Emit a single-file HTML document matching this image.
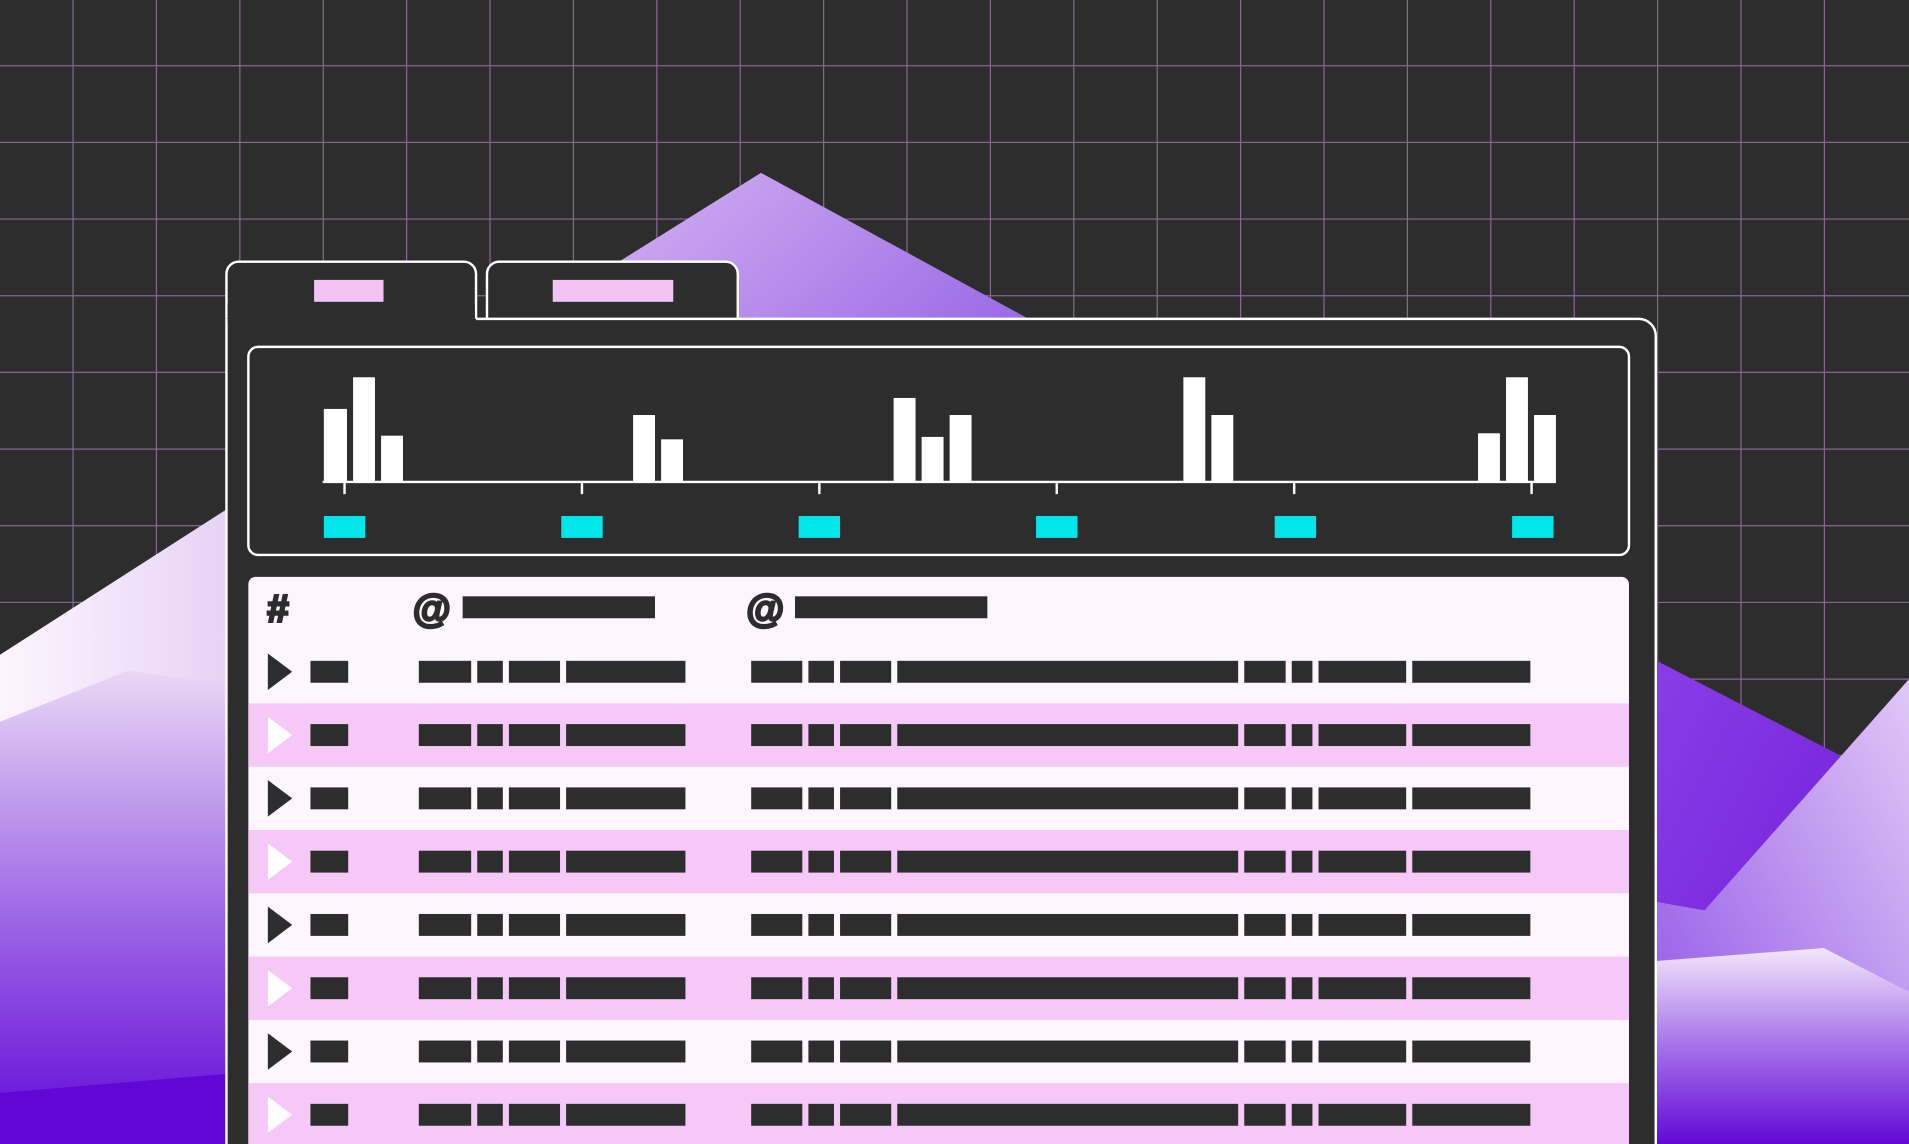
<!DOCTYPE html>
<html><head><style>html,body{margin:0;padding:0;background:#2d2d2d;overflow:hidden}svg{display:block}</style></head>
<body>
<svg width="1909" height="1144" viewBox="0 0 1568 940" xmlns="http://www.w3.org/2000/svg" preserveAspectRatio="none">
<defs>
<linearGradient id="gc" x1="0" y1="0" x2="1" y2="0.4"><stop offset="0" stop-color="#d6b4f2"/><stop offset="1" stop-color="#9a6ae6"/></linearGradient>
<linearGradient id="gw" x1="0" y1="0" x2="1" y2="0"><stop offset="0" stop-color="#fdf5fd"/><stop offset="1" stop-color="#e6d2f6"/></linearGradient>
<linearGradient id="gp" x1="0" y1="0" x2="0" y2="1"><stop offset="0" stop-color="#ead8f6"/><stop offset="0.5" stop-color="#a06be6"/><stop offset="1" stop-color="#6208d6"/></linearGradient>
<linearGradient id="gr1" x1="0" y1="0" x2="1" y2="1"><stop offset="0" stop-color="#8a3ee6"/><stop offset="1" stop-color="#6a14d6"/></linearGradient>
<linearGradient id="gr2" x1="1" y1="0" x2="0" y2="1"><stop offset="0" stop-color="#e0c8f6"/><stop offset="1" stop-color="#8a4ce6"/></linearGradient>
<linearGradient id="gr3" x1="0" y1="0" x2="0" y2="1"><stop offset="0" stop-color="#f2e6fa"/><stop offset="0.5" stop-color="#a672ea"/><stop offset="1" stop-color="#6208d6"/></linearGradient>
</defs>
<rect width="1568" height="940" fill="#2d2d2d"/>
<g stroke="#86688f" stroke-width="1">
<path d="M60 0V940M128.5 0V940M197 0V940M265.5 0V940M334 0V940M402.5 0V940M471 0V940M539.5 0V940M608 0V940M676.5 0V940M745 0V940M813.5 0V940M882 0V940M950.5 0V940M1019 0V940M1087.5 0V940M1156 0V940M1224.5 0V940M1293 0V940M1361.5 0V940M1430 0V940M1498.5 0V940"/>
<path d="M0 54H1568M0 117H1568M0 180H1568M0 243H1568M0 306H1568M0 369H1568M0 432H1568M0 495H1568M0 558H1568M0 621H1568"/>
</g>
<polygon points="625,142 510,214 480,300 900,300 845,262" fill="url(#gc)"/>
<polygon points="0,538 190,416 190,940 0,940" fill="url(#gw)"/>
<polygon points="0,593 105,551 190,563 190,940 0,940" fill="url(#gp)"/>
<polygon points="0,898 190,882 190,940 0,940" fill="#6206d6"/>
<polygon points="1355,540 1510,620 1568,700 1568,940 1355,940" fill="url(#gr1)"/>
<polygon points="1355,740 1400,748 1568,558 1568,940 1355,940" fill="url(#gr2)"/>
<polygon points="1355,790 1498,779 1568,815 1568,940 1355,940" fill="url(#gr3)"/>
<path d="M186 262V225a10 10 0 0 1 10-10h185a10 10 0 0 1 10 10V262" fill="#2d2d2d" stroke="#fff" stroke-width="2"/>
<path d="M400 262V225a10 10 0 0 1 10-10h186a10 10 0 0 1 10 10V262" fill="#2d2d2d" stroke="#fff" stroke-width="2"/>
<rect x="258" y="230" width="57" height="18" fill="#f2c4f6"/>
<rect x="454" y="230" width="99" height="18" fill="#f2c4f6"/>
<path d="M186 262V960H1360V276a14 14 0 0 0-14-14H391" fill="#2d2d2d" stroke="#fff" stroke-width="2"/>
<rect x="187" y="250" width="203" height="14" fill="#2d2d2d"/>
<rect x="204" y="285" width="1134" height="171" rx="8" fill="#2d2d2d" stroke="#fff" stroke-width="2"/>
<g fill="#fff">
<rect x="266" y="336" width="19" height="60"/><rect x="290" y="310" width="18" height="86"/><rect x="313" y="358" width="18" height="38"/>
<rect x="520" y="341" width="18" height="55"/><rect x="543" y="361" width="18" height="35"/>
<rect x="734" y="327" width="18" height="69"/><rect x="757" y="359" width="18" height="37"/><rect x="780" y="341" width="18" height="55"/>
<rect x="972" y="310" width="18" height="86"/><rect x="995" y="341" width="18" height="55"/>
<rect x="1214" y="356" width="18" height="40"/><rect x="1237" y="310" width="18" height="86"/><rect x="1260" y="341" width="18" height="55"/>
</g>
<path d="M265 396H1278M283 396V406M478 396V406M673 396V406M868 396V406M1063 396V406M1258 396V406" stroke="#fff" stroke-width="2"/>
<g fill="#00e6ea">
<rect x="266" y="424" width="34" height="18"/><rect x="461" y="424" width="34" height="18"/><rect x="656" y="424" width="34" height="18"/><rect x="851" y="424" width="34" height="18"/><rect x="1047" y="424" width="34" height="18"/><rect x="1242" y="424" width="34" height="18"/>
</g>
<path d="M204 940V480a6 6 0 0 1 6-6H1332a6 6 0 0 1 6 6V940Z" fill="#fdf7fd"/>
<g font-family="'Liberation Sans', sans-serif" font-size="32" font-weight="bold" fill="#2d2d2d" stroke="#2d2d2d" stroke-width="2">
<text x="219" y="511" font-style="italic">#</text>
<text x="339" y="511">@</text>
<text x="613" y="511">@</text>
</g>
<rect x="380" y="490" width="158" height="18" fill="#2d2d2d"/>
<rect x="653" y="490" width="158" height="18" fill="#2d2d2d"/>
<g fill="#f5c8f8">
<rect x="204" y="578" width="1134" height="52"/>
<rect x="204" y="682" width="1134" height="52"/>
<rect x="204" y="786" width="1134" height="52"/>
<rect x="204" y="890" width="1134" height="52"/>
</g>
<g fill="#2d2d2d">
<polygon points="220,537 240,552 220,567"/>
<polygon points="220,641 240,656 220,671"/>
<polygon points="220,745 240,760 220,775"/>
<polygon points="220,849 240,864 220,879"/>
</g>
<g fill="#fff">
<polygon points="220,589 240,604 220,619"/>
<polygon points="220,693 240,708 220,723"/>
<polygon points="220,797 240,812 220,827"/>
<polygon points="220,901 240,916 220,931"/>
</g>
<g fill="#2d2d2d" id="r">
<rect x="255" y="543" width="31" height="18"/>
<rect x="344" y="543" width="43" height="18"/><rect x="392" y="543" width="21" height="18"/><rect x="418" y="543" width="42" height="18"/><rect x="465" y="543" width="98" height="18"/>
<rect x="617" y="543" width="42" height="18"/><rect x="664" y="543" width="21" height="18"/><rect x="690" y="543" width="42" height="18"/><rect x="737" y="543" width="280" height="18"/><rect x="1022" y="543" width="34" height="18"/><rect x="1061" y="543" width="17" height="18"/><rect x="1083" y="543" width="72" height="18"/><rect x="1160" y="543" width="97" height="18"/>
</g>
<use href="#r" y="52"/><use href="#r" y="104"/><use href="#r" y="156"/><use href="#r" y="208"/><use href="#r" y="260"/><use href="#r" y="312"/><use href="#r" y="364"/>
</svg>
</body></html>
